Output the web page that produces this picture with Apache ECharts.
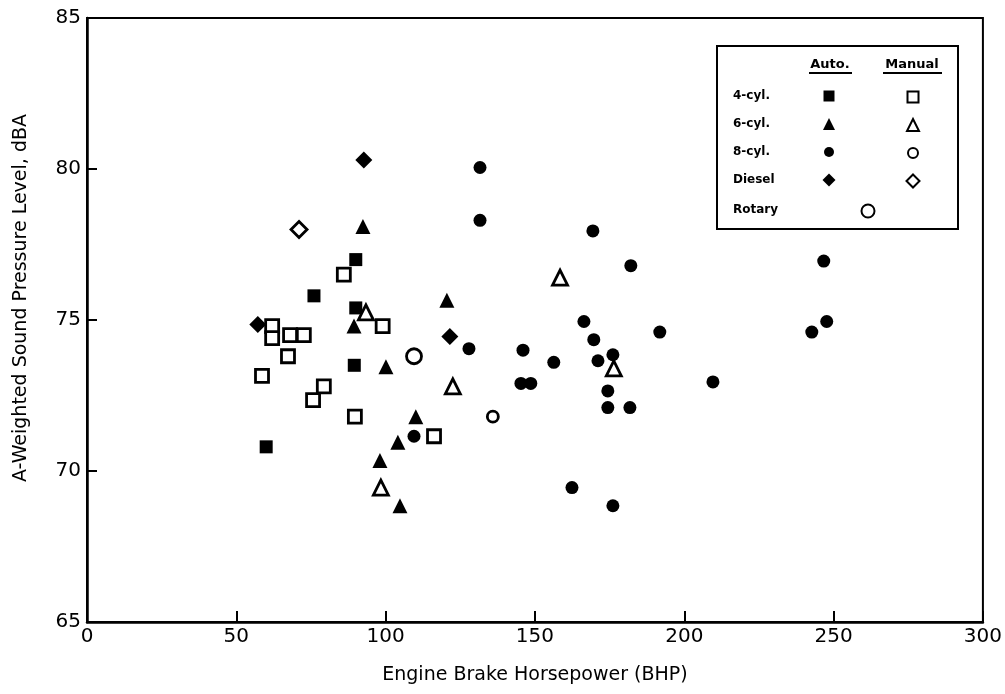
<!DOCTYPE html>
<html>
<head>
<meta charset="utf-8">
<script src="https://cdn.jsdelivr.net/npm/echarts@6/dist/echarts.min.js"></script>
<style>
  html, body { margin: 0; padding: 0; background: #fff; }
  #chart { width: 1005px; height: 694px; }
</style>
</head>
<body>
<div id="chart"></div>
<script>
// Engine brake horsepower (BHP) vs. A-weighted sound pressure level (dBA)
const auto4 = [[90, 77.0], [76, 75.8], [90, 75.4], [89.5, 73.5], [60, 70.8]];
const manual4 = [[86, 76.5], [99, 74.8], [62, 74.8], [62, 74.4], [68, 74.5], [72.6, 74.5],
  [67.3, 73.8], [58.6, 73.15], [79.3, 72.8], [75.7, 72.35], [89.7, 71.8], [116.2, 71.15]];
const auto6 = [[92.4, 78.1], [120.5, 75.65], [89.4, 74.8], [100.1, 73.45], [110.1, 71.8],
  [104.1, 70.95], [98.1, 70.35], [104.8, 68.85]];
const manual6 = [[93.4, 75.25], [98.4, 69.45], [158.4, 76.4], [122.5, 72.8], [176.4, 73.4]];
const auto8 = [[131.6, 80.05], [131.6, 78.3], [169.4, 77.95], [182.1, 76.8], [109.5, 71.15],
  [127.9, 74.05], [146, 74.0], [156.3, 73.6], [166.4, 74.95], [169.7, 74.35], [171.1, 73.65],
  [176.1, 73.85], [145.3, 72.9], [148.6, 72.9], [174.4, 72.65], [174.4, 72.1], [181.8, 72.1],
  [191.8, 74.6], [209.6, 72.95], [162.4, 69.45], [176.1, 68.85], [246.7, 76.95], [247.7, 74.95],
  [242.7, 74.6]];
const manual8 = [[135.9, 71.8]];
const autoDiesel = [[92.7, 80.3], [57.2, 74.85], [121.5, 74.45]];
const manualDiesel = [[71, 78.0]];
const rotary = [[109.5, 73.8]];

const xTicks = [0, 50, 100, 150, 200, 250, 300];
const yTicks = [65, 70, 75, 80, 85];
const rowLabels = ['4-cyl.', '6-cyl.', '8-cyl.', 'Diesel', 'Rotary'];

const FONT = 'DejaVu Sans';
const chart = echarts.init(document.getElementById('chart'), null, { renderer: 'canvas' });

const filled = { color: '#000', borderColor: '#000', borderWidth: 0, opacity: 1 };
const open = { color: '#fff', borderColor: '#000', borderWidth: 2.8, opacity: 1 };

function scatter(name, data, symbol, size, style) {
  return {
    name, type: 'scatter', data, symbol, symbolSize: size,
    itemStyle: style, emphasis: { disabled: true }, z: 3
  };
}

const series = [
  scatter('Auto 4-cyl.', auto4, 'rect', 13, filled),
  scatter('Manual 4-cyl.', manual4, 'rect', 13, open),
  scatter('Auto 6-cyl.', auto6, 'triangle', 15, filled),
  scatter('Manual 6-cyl.', manual6, 'triangle', 15, open),
  scatter('Auto 8-cyl.', auto8, 'circle', 13, filled),
  scatter('Manual 8-cyl.', manual8, 'circle', 11, open),
  scatter('Auto Diesel', autoDiesel, 'diamond', 17, filled),
  scatter('Manual Diesel', manualDiesel, 'diamond', 16, open),
  scatter('Rotary', rotary, 'circle', 15, open)
];

// Key icon positions (centres) inside the key box
const keyRows = [96, 124, 152, 180, 210];
const autoCol = 829, manualCol = 912, rotaryCol = 867;
const iconPlaces = [
  ['Auto 4-cyl.', autoCol, keyRows[0], 11], ['Manual 4-cyl.', manualCol, keyRows[0], 11],
  ['Auto 6-cyl.', autoCol, keyRows[1], 12], ['Manual 6-cyl.', manualCol, keyRows[1], 12],
  ['Auto 8-cyl.', autoCol, keyRows[2], 10], ['Manual 8-cyl.', manualCol, keyRows[2], 10],
  ['Auto Diesel', autoCol, keyRows[3], 13], ['Manual Diesel', manualCol, keyRows[3], 13],
  ['Rotary', rotaryCol, keyRows[4], 13]
];
const legends = iconPlaces.map(([name, cx, cy, s]) => ({
  data: [name], left: cx - s / 2, top: cy - s / 2, padding: 0,
  itemWidth: s, itemHeight: s, itemGap: 0, selectedMode: false,
  formatter: () => '', textStyle: { fontSize: 1 }
}));

const graphics = [
  { type: 'rect', shape: { x: 717, y: 46, width: 241, height: 183 },
    style: { fill: '#fff', stroke: '#000', lineWidth: 2 }, z: 1 },
  { type: 'text', x: 830, y: 65, style: { text: 'Auto.', font: 'bold 13px ' + FONT, fill: '#000', align: 'center', verticalAlign: 'middle' }, z: 5 },
  { type: 'text', x: 912, y: 65, style: { text: 'Manual', font: 'bold 13px ' + FONT, fill: '#000', align: 'center', verticalAlign: 'middle' }, z: 5 },
  { type: 'line', shape: { x1: 809, y1: 73, x2: 852, y2: 73 }, style: { stroke: '#000', lineWidth: 2 }, z: 5 },
  { type: 'line', shape: { x1: 883, y1: 73, x2: 942, y2: 73 }, style: { stroke: '#000', lineWidth: 2 }, z: 5 }
].concat(rowLabels.map((t, i) => ({
  type: 'text', x: 733, y: keyRows[i],
  style: { text: t, font: 'bold 12px ' + FONT, fill: '#000', align: 'left', verticalAlign: 'middle' }, z: 5
})));

chart.setOption({
  animation: false,
  backgroundColor: '#fff',
  grid: { left: 87, right: 22, top: 18, bottom: 72, show: true, borderColor: '#000', borderWidth: 2 },
  legend: legends,
  xAxis: {
    type: 'value', min: xTicks[0], max: xTicks[xTicks.length - 1], interval: 50,
    name: 'Engine Brake Horsepower (BHP)', nameLocation: 'middle', nameGap: 44,
    nameTextStyle: { fontFamily: FONT, fontSize: 19, color: '#000' },
    axisLine: { show: true, onZero: false, lineStyle: { color: '#000', width: 2.5 } },
    axisTick: { show: true, inside: true, length: 11, lineStyle: { color: '#000', width: 2 } },
    axisLabel: { fontFamily: FONT, fontSize: 20, color: '#000', margin: 5 },
    splitLine: { show: false }
  },
  yAxis: {
    type: 'value', min: yTicks[0], max: yTicks[yTicks.length - 1], interval: 5,
    name: 'A-Weighted Sound Pressure Level, dBA', nameLocation: 'middle', nameGap: 56,
    nameTextStyle: { fontFamily: FONT, fontSize: 19, color: '#000', padding: [0, 0, 0, 44] },
    axisLine: { show: true, onZero: false, lineStyle: { color: '#000', width: 2.5 } },
    axisTick: { show: true, inside: true, length: 10, lineStyle: { color: '#000', width: 2 } },
    axisLabel: { fontFamily: FONT, fontSize: 20, color: '#000', margin: 6 },
    splitLine: { show: false }
  },
  graphic: graphics,
  series
});
</script>
</body>
</html>
